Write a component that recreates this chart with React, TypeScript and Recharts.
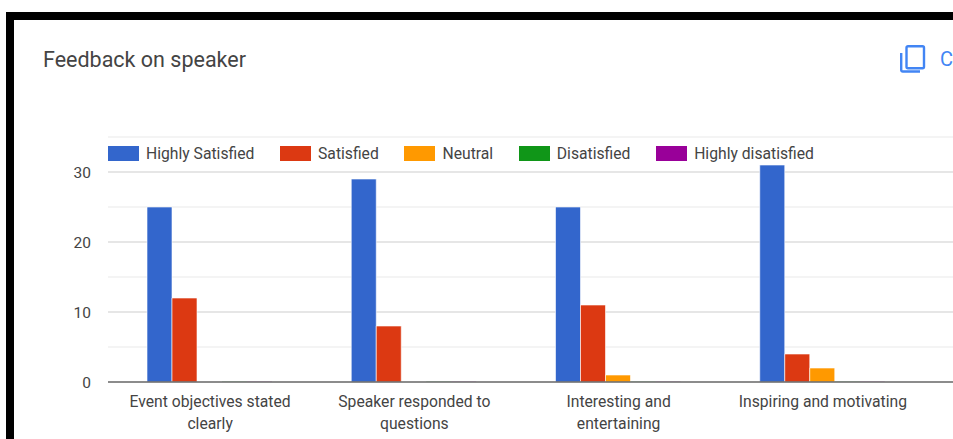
import { BarChart, Bar, XAxis, YAxis, CartesianGrid, Legend, Text } from 'recharts';

const categories = [
  'Event objectives stated clearly',
  'Speaker responded to questions',
  'Interesting and entertaining',
  'Inspiring and motivating',
];
const highlySatisfied = [25, 29, 25, 31];
const satisfied = [12, 8, 11, 4];
const neutral = [0, 0, 1, 2];
const disatisfied = [0, 0, 0, 0];
const highlyDisatisfied = [0, 0, 0, 0];

const seriesNames = ['Highly Satisfied', 'Satisfied', 'Neutral', 'Disatisfied', 'Highly disatisfied'];
const seriesColors = ['#3366cc', '#dc3912', '#ff9900', '#109618', '#990099'];
const seriesValues = [highlySatisfied, satisfied, neutral, disatisfied, highlyDisatisfied];

const yTicks = [0, 10, 20, 30];
const majorGrid = [10, 20, 30];
const minorGrid = [5, 15, 25, 35];

const chartData = categories.map((name, i) => {
  const row: Record<string, string | number> = { name };
  seriesNames.forEach((s, j) => {
    row[s] = seriesValues[j][i];
  });
  return row;
});

const FONT = 'Roboto, sans-serif';
const TEXT_COLOR = '#444444';

function CategoryTick({ x, y, payload }: any) {
  return (
    <Text
      x={x}
      y={y + 6}
      width={180}
      textAnchor="middle"
      verticalAnchor="start"
      lineHeight={22}
      style={{ fontFamily: FONT, fontSize: 15.7 }}
      fill={TEXT_COLOR}
    >
      {payload.value}
    </Text>
  );
}

function ChartLegend() {
  return (
    <div style={{ display: 'flex', fontFamily: FONT, fontSize: 15.7, color: TEXT_COLOR, lineHeight: '16px' }}>
      {seriesNames.map((name, i) => (
        <div key={name} style={{ display: 'flex', alignItems: 'center', marginRight: 25.7, whiteSpace: 'nowrap' }}>
          <span style={{ width: 31, height: 15, background: seriesColors[i], marginRight: 7 }} />
          <span style={{ position: 'relative', top: 1 }}>{name}</span>
        </div>
      ))}
    </div>
  );
}

export default function App() {
  return (
    <div style={{ position: 'absolute', left: 0, top: 0, width: 953, height: 439, overflow: 'hidden', background: '#fff' }}>
      {/* black frame, only top and left show in the crop */}
      <div style={{ position: 'absolute', left: 6, top: 12, width: 1000, height: 500, borderTop: '8px solid #000', borderLeft: '8px solid #000' }} />

      <div style={{ position: 'absolute', left: 43, top: 47, fontFamily: FONT, fontSize: 21.5, lineHeight: '26px', color: TEXT_COLOR, whiteSpace: 'nowrap' }}>
        Feedback on speaker
      </div>

      <svg style={{ position: 'absolute', left: 898, top: 43 }} width={30} height={32} viewBox="0 0 30 32" fill="none" stroke="#4285f4" strokeWidth={2.4}>
        <rect x={8.5} y={3.2} width={17.5} height={22} rx={1.5} />
        <path d="M3.2 10 V27 a1.5 1.5 0 0 0 1.5 1.5 H22" />
      </svg>
      <div style={{ position: 'absolute', left: 940, top: 46, fontFamily: FONT, fontSize: 20, lineHeight: '26px', color: '#4285f4', whiteSpace: 'nowrap' }}>
        Copy chart
      </div>

      <div style={{ position: 'absolute', left: 0, top: 0 }}>
        <BarChart
          width={953}
          height={439}
          data={chartData}
          margin={{ top: 137, right: 0, bottom: 0, left: 0 }}
          barCategoryGap={39}
          barGap={0}
        >
          <CartesianGrid vertical={false} horizontalValues={minorGrid} stroke="#f0f0f0" strokeWidth={1.5} />
          <CartesianGrid vertical={false} horizontalValues={majorGrid} stroke="#dedede" strokeWidth={1.5} />
          {seriesNames.map((name, i) => (
            <Bar
              key={name}
              dataKey={name}
              fill={seriesColors[i]}
              fillOpacity={i > 2 ? 0.2 : 1}
              minPointSize={i > 2 ? 1 : 0}
              stroke="#ffffff"
              strokeOpacity={i > 2 ? 0 : 0.6}
              strokeWidth={1}
              isAnimationActive={false}
            />
          ))}
          <XAxis
            dataKey="name"
            height={57}
            interval={0}
            padding={{ left: 0, right: 28 }}
            tickLine={false}
            axisLine={{ stroke: '#666666', strokeWidth: 1.5 }}
            tick={<CategoryTick />}
          />
          <YAxis
            width={108}
            domain={[0, 35]}
            ticks={yTicks}
            tickLine={false}
            axisLine={false}
            tickMargin={11}
            tick={{ fontFamily: FONT, fontSize: 15.5, fill: TEXT_COLOR }}
          />
          <Legend
            content={<ChartLegend />}
            layout="horizontal"
            verticalAlign="middle"
            wrapperStyle={{ position: 'absolute', left: 108, top: 145, width: 800, height: 16 }}
          />
        </BarChart>
      </div>
    </div>
  );
}
